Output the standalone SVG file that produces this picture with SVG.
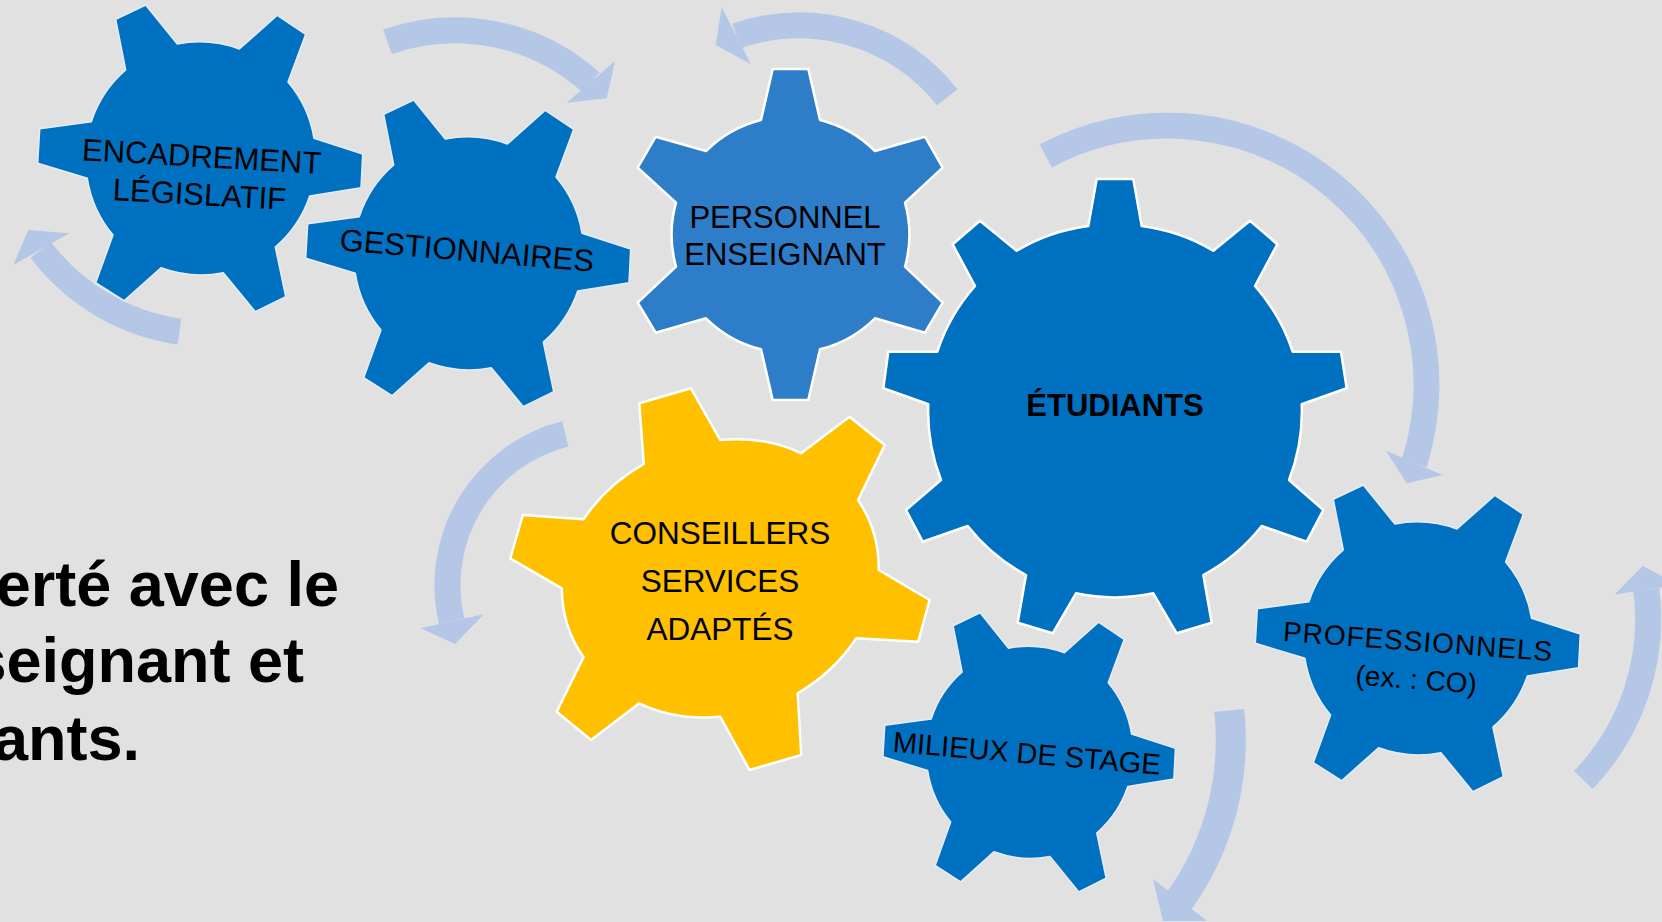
<svg xmlns="http://www.w3.org/2000/svg" xmlns:xlink="http://www.w3.org/1999/xlink" width="1662" height="922" viewBox="0 0 1662 922">
<style>
.bg{fill:#e1e1e1}
.dark{fill:#0070C0;stroke:#e6ecf3;stroke-width:1.5;stroke-linejoin:round}
.mid{fill:#2E7DC8;stroke:#ffffff;stroke-width:2.5;stroke-linejoin:round}
.big{fill:#0070C0;stroke:#ffffff;stroke-width:2.5;stroke-linejoin:round}
.gold{fill:#FFC000;stroke:#ffffff;stroke-width:2.5;stroke-linejoin:round}
.lbl{font-family:"Liberation Sans",Arial,sans-serif;font-size:31px;fill:#000;text-anchor:middle}
.bold{font-weight:bold}
.arc{fill:none;stroke:#B4C7E7;stroke-width:26}
.head{fill:#B4C7E7}
.side{font-family:"Liberation Sans",Arial,sans-serif;font-size:63px;font-weight:bold;fill:#000;text-anchor:end}
</style>
<defs>
<path id="gear6" d="M -74.3,-88 L -84.3,-138.7 L -54.3,-153 L -22.7,-114 A 116 116 0 0 1 39.3,-109 L 77.3,-142.7 L 105.7,-123.7 L 88,-76 A 116 116 0 0 1 114,-19.7 L 162.7,-4 L 161,29.7 L 109.7,38 A 116 116 0 0 1 75.3,89 L 85.7,138.7 L 55.3,153.7 L 23.3,114.7 A 116 116 0 0 1 -39,109.7 L -76,142.7 L -104.3,124.7 L -87,77 A 116 116 0 0 1 -112.7,20.3 L -162.3,5.3 L -160.3,-29.3 L -108.7,-36.3 A 116 116 0 0 1 -74.3,-88 Z" vector-effect="non-scaling-stroke"/>
</defs>
<rect class="bg" x="0" y="0" width="1662" height="922"/>

<g id="connectors">
<path class="arc" d="M 387.5,41.7 A 204 204 0 0 1 590.8,82.2"/>
<polygon class="head" points="615,61 606.7,98.3 566.7,102.7"/>
<path class="arc" d="M 179.5,331.7 A 212 212 0 0 1 40.8,250"/>
<polygon class="head" points="13.3,265 28.3,230 69.3,233.3"/>
<path class="arc" d="M 947.2,97.2 A 189 189 0 0 0 736.7,36"/>
<polygon class="head" points="721.7,7.3 715.7,45 751,64.3"/>
<path class="arc" d="M 1045.8,156 A 259 259 0 0 1 1414.2,463.3"/>
<polygon class="head" points="1386,450.7 1406.7,483.3 1442.7,475"/>
<path class="arc" d="M 565.3,433.8 A 156 156 0 0 0 451.7,621.2"/>
<polygon class="head" points="483.7,614.3 455.1,644 420.7,628.3"/>
<path class="arc" style="stroke-width:30" d="M 1229.2,710.5 A 276 276 0 0 1 1179.2,900.8"/>
<polygon class="head" points="1153,879 1163,921 1207,921"/>
<path class="arc" d="M 1583.3,780 A 232 232 0 0 0 1646.3,589.7"/>
<polygon class="head" points="1614.7,594.6 1642.7,566 1677.9,584.8"/>
</g>

<g id="encadrement">
<use xlink:href="#gear6" href="#gear6" class="dark" transform="translate(200,158)"/>
<g transform="rotate(3.3 200 186)">
<text class="lbl" x="200" y="167">ENCADREMENT</text>
<text class="lbl" x="200" y="205">LÉGISLATIF</text>
</g>
</g>

<g id="gestionnaires">
<use xlink:href="#gear6" href="#gear6" class="dark" transform="translate(468,253)"/>
<text class="lbl" x="466" y="261" transform="rotate(4.8 466 261)">GESTIONNAIRES</text>
</g>

<g id="personnel">
<path class="mid" d="M 761,120 L 772.7,69 L 808.3,69 L 820,120 A 119 119 0 0 1 875,151 L 925,136.7 L 942.7,167.7 L 905,202.7 A 119 119 0 0 1 905,266.7 L 942.7,302.7 L 925,332.7 L 875,318.3 A 119 119 0 0 1 820,349.3 L 808.3,400 L 772.7,400 L 761,349.3 A 119 119 0 0 1 706,318.3 L 655.7,332.7 L 637.7,302.7 L 676,266.7 A 119 119 0 0 1 676,202.7 L 637.7,167.7 L 655.7,136.7 L 706,151 A 119 119 0 0 1 761,120 Z"/>
<text class="lbl" x="785" y="227.7">PERSONNEL</text>
<text class="lbl" x="785" y="265">ENSEIGNANT</text>
</g>

<g id="etudiants">
<path class="big" d="M 1088.3,226 L 1096.7,179 L 1133.3,179 L 1141.7,226 A 187 187 0 0 1 1213.3,250.7 L 1250,220.7 L 1277.3,244.3 L 1255,286 A 187 187 0 0 1 1292.7,351.7 L 1341,351.7 L 1346.7,388.3 L 1301.7,404.3 A 187 187 0 0 1 1289,480 L 1323.3,510 L 1306.7,541.7 L 1261.7,526 A 187 187 0 0 1 1203.3,575 L 1211.7,622.7 L 1176.7,633.3 L 1153.3,593.3 A 187 187 0 0 1 1076,593.3 L 1052.7,633.3 L 1017.7,622.7 L 1026,575 A 187 187 0 0 1 967.7,526 L 922.7,541.7 L 906,510 L 941,480 A 187 187 0 0 1 928.3,404.3 L 883.3,388.3 L 888.3,351.7 L 937.3,351.7 A 187 187 0 0 1 975,286 L 952.7,244.3 L 980,220.7 L 1016.7,250.7 A 187 187 0 0 1 1088.3,226 Z"/>
<text class="lbl bold" x="1115" y="415.7">ÉTUDIANTS</text>
</g>

<g id="conseillers">
<path class="gold" d="M 643.8,464 L 639.3,403.3 L 691,388.3 L 720.2,440 A 159 137 -28 0 1 801.2,453.3 L 849.4,416.7 L 884.8,445 L 858,500 A 159 137 -28 0 1 878.7,570 L 929.6,600 L 918.2,641.7 L 856.3,638.3 A 159 137 -28 0 1 797.7,693.3 L 801.2,755 L 749.5,770 L 720.2,716.7 A 159 137 -28 0 1 639.3,703.3 L 591.1,740 L 556.7,711.7 L 583.5,657.3 A 159 137 -28 0 1 561.8,588.3 L 510.2,558.3 L 522.9,515 L 583.5,519.3 A 159 137 -28 0 1 643.8,464 Z"/>
<text class="lbl" style="font-size:31.5px" x="720" y="544">CONSEILLERS</text>
<text class="lbl" style="font-size:31.5px" x="720" y="592.3">SERVICES</text>
<text class="lbl" style="font-size:31.5px" x="720" y="640">ADAPTÉS</text>
</g>

<g id="milieux">
<use xlink:href="#gear6" href="#gear6" class="dark" transform="translate(1029,752) scale(0.9,0.91)"/>
<text class="lbl" style="font-size:29px" x="1026" y="763.3" transform="rotate(4.9 1026 763.3)">MILIEUX DE STAGE</text>
</g>

<g id="professionnels">
<use xlink:href="#gear6" href="#gear6" class="dark" transform="translate(1417.6,638)"/>
<g transform="rotate(4.3 1416 670)">
<text class="lbl" style="font-size:28px;letter-spacing:1px" x="1416" y="651">PROFESSIONNELS</text>
<text class="lbl" style="font-size:28px" x="1417" y="689">(ex. : CO)</text>
</g>
</g>

<g id="side-text">
<text class="side" x="339" y="606">erté avec le</text>
<text class="side" x="304" y="681.5">seignant et</text>
<text class="side" x="140" y="760">ants.</text>
</g>
</svg>
